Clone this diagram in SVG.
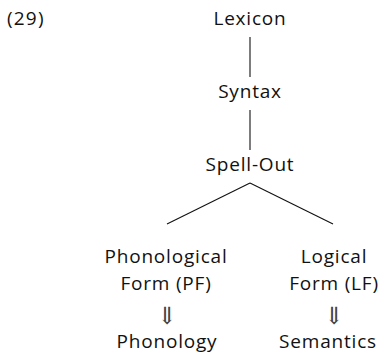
<svg xmlns="http://www.w3.org/2000/svg" width="385" height="355" viewBox="0 0 385 355">
<style>
text{font-family:"Open Sans","Noto Sans",sans-serif;font-size:19px;fill:#111;text-anchor:middle;letter-spacing:0.8px}
.arr{font-family:"DejaVu Serif","DejaVu Sans",serif;font-size:24px;letter-spacing:0;fill:#444}
.c line{stroke:#111;stroke-width:1.1;fill:none}
</style>
<rect width="385" height="355" fill="#fff"/>
<text x="7" y="25" style="text-anchor:start;letter-spacing:1.2px">(29)</text>
<g class="c" id="connectors">
<line x1="250" y1="37" x2="250" y2="77"/>
<line x1="250" y1="110" x2="250" y2="150"/>
<line x1="250" y1="183" x2="167" y2="224"/>
<line x1="250" y1="183" x2="333" y2="224"/>
</g>
<g id="lexicon"><text x="250" y="25">Lexicon</text></g>
<g id="syntax"><text x="250" y="98">Syntax</text></g>
<g id="spellout"><text x="250" y="171">Spell-Out</text></g>
<g id="pf"><text x="166" y="263">Phonological</text><text x="166" y="290">Form (PF)</text></g>
<g id="lf"><text x="334" y="263">Logical</text><text x="334" y="290">Form (LF)</text></g>
<g id="arrow-pf"><text class="arr" x="167" y="324">⇓</text></g>
<g id="arrow-lf"><text class="arr" x="334" y="324">⇓</text></g>
<g id="phonology"><text x="167" y="348">Phonology</text></g>
<g id="semantics"><text x="328" y="348">Semantics</text></g>
</svg>
